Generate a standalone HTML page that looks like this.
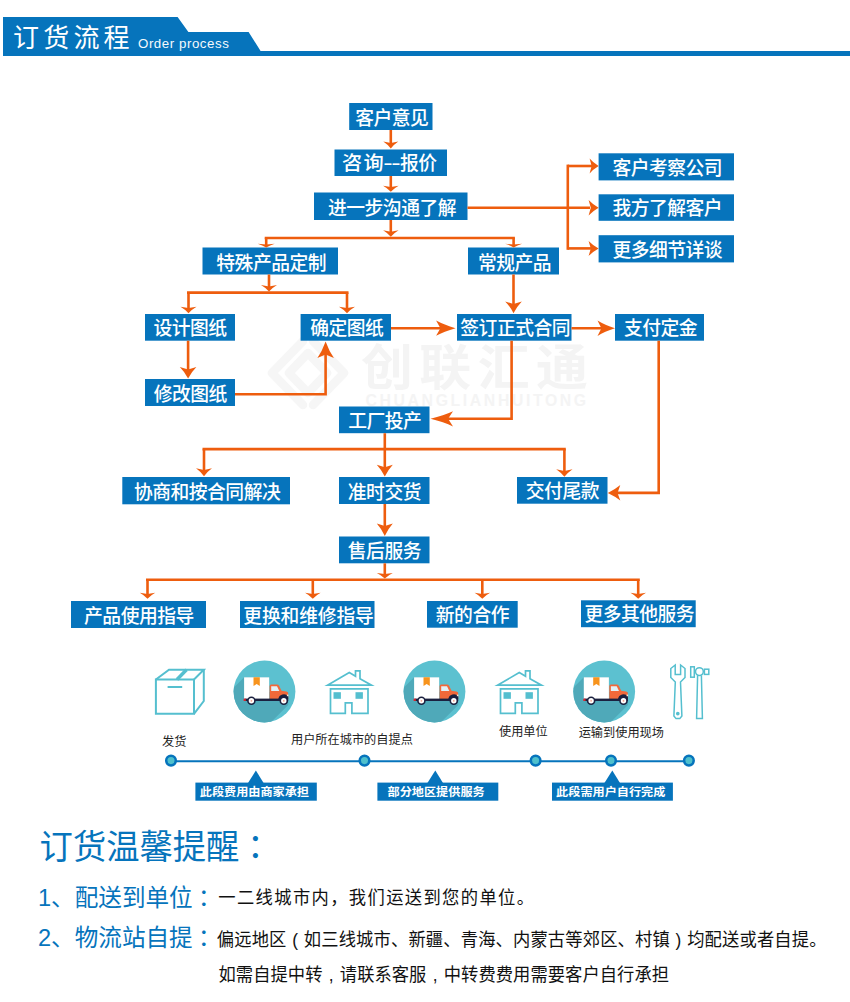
<!DOCTYPE html>
<html lang="zh-CN">
<head>
<meta charset="utf-8">
<title>订货流程 Order process</title>
<style>
html,body{margin:0;padding:0;background:#fff;}
body{width:850px;height:1002px;position:relative;overflow:hidden;font-family:"Liberation Sans","Noto Sans CJK SC",sans-serif;}
#page{position:absolute;left:0;top:0;width:850px;height:1002px;overflow:hidden;background:#fff;}
.abs{position:absolute;white-space:nowrap;}
svg{position:absolute;left:0;top:0;}
.b{position:absolute;color:#fff;font-size:18.8px;text-align:center;white-space:nowrap;letter-spacing:-0.5px;text-indent:0.5px;font-weight:500;transform:scaleY(1.04);transform-origin:50% 50%;}
.hd{position:absolute;left:13px;top:21.3px;color:#fff;font-size:26px;line-height:34px;letter-spacing:4.2px;white-space:nowrap;}
.hd2{position:absolute;left:138px;top:35.2px;color:#f4f9fc;font-size:13.3px;line-height:18px;letter-spacing:0.55px;white-space:nowrap;}
.cap{position:absolute;color:#222;font-size:12.2px;line-height:16px;white-space:nowrap;}
.tag{position:absolute;color:#fff;font-size:12.15px;line-height:18.6px;height:18.6px;text-align:center;white-space:nowrap;font-weight:700;transform:scaleY(0.95);transform-origin:50% 50%;}
.t1{position:absolute;color:#0674bc;white-space:nowrap;font-weight:400;transform-origin:0 50%;}
.t1 i,.t2 i{font-style:normal;font-family:"Liberation Sans","Noto Sans CJK JP",sans-serif;position:relative;top:1px;left:-0.6px;}
.t2 b{font-weight:inherit;display:inline-block;width:1em;text-align:center;}
.t2{position:absolute;color:#111;white-space:nowrap;transform:scaleY(1.07);transform-origin:0 50%;}
.wm{position:absolute;color:#f4f4f4;white-space:nowrap;}
</style>
</head>
<body>
<div id="page">

<div class="wm" style="left:360.6px;top:334.5px;font-size:48.5px;line-height:66px;letter-spacing:6px;font-weight:700;transform:scaleX(1.07);transform-origin:0 50%;">创联汇通</div>
<div class="wm" style="left:365.5px;top:391.3px;font-size:15.8px;line-height:20px;letter-spacing:2.62px;font-weight:700;">CHUANGLIANHUITONG</div>
<svg width="850" height="1002" viewBox="0 0 850 1002">
<g fill="none" stroke="#f6f6f6" stroke-width="8.5" stroke-linejoin="round" stroke-linecap="round"><path d="M303,341 L272,373 L303,405"/><path d="M313,341 L344,373 L313,405"/><path d="M308,353 L289,373 L308,393 L327,373 Z"/></g>
<path d="M3,17 L177.6,17 L188.4,32 L248.6,32 L260.6,51 L850,51 L850,56 L3,56 Z" fill="#0674bc"/>
<g fill="#0674bc">
<rect x="349.2" y="103.0" width="83.3" height="27.0"/>
<rect x="334.5" y="149.5" width="112.5" height="26.5"/>
<rect x="314.0" y="192.5" width="153.5" height="27.5"/>
<rect x="598.6" y="153.3" width="135.4" height="27.1"/>
<rect x="598.6" y="194.3" width="135.4" height="26.5"/>
<rect x="598.6" y="235.2" width="135.4" height="27.2"/>
<rect x="202.5" y="247.5" width="135.5" height="27.0"/>
<rect x="468.0" y="247.5" width="91.0" height="27.0"/>
<rect x="145.0" y="314.0" width="90.0" height="26.7"/>
<rect x="300.6" y="314.0" width="90.4" height="26.7"/>
<rect x="457.0" y="314.0" width="114.5" height="26.7"/>
<rect x="615.0" y="314.0" width="89.0" height="26.7"/>
<rect x="145.0" y="379.0" width="90.0" height="27.0"/>
<rect x="339.0" y="406.5" width="90.5" height="26.7"/>
<rect x="122.3" y="477.0" width="167.7" height="27.3"/>
<rect x="339.0" y="477.0" width="90.5" height="27.0"/>
<rect x="517.0" y="477.0" width="90.5" height="26.7"/>
<rect x="339.0" y="536.5" width="90.5" height="26.8"/>
<rect x="71.0" y="601.0" width="135.0" height="27.0"/>
<rect x="240.0" y="601.0" width="134.5" height="27.0"/>
<rect x="427.0" y="601.0" width="90.7" height="26.7"/>
<rect x="581.0" y="600.3" width="114.7" height="26.9"/>
</g>
<g fill="none" stroke="#ee5d0e" stroke-width="2.6" stroke-linejoin="miter" stroke-linecap="butt">
<path d="M390.8,130.0 L390.8,144.3"/>
<path d="M390.8,176.0 L390.8,188.2"/>
<path d="M390.8,220.0 L390.8,232.9"/>
<path d="M264.7,238.0 L514.9,238.0"/>
<path d="M266.2,238.0 L266.2,245.2"/>
<path d="M513.6,238.0 L513.6,245.2"/>
<path d="M467.5,207.8 L590.0,207.8"/>
<path d="M567.8,164.6 L567.8,249.8"/>
<path d="M567.8,166.0 L593.2,166.0"/>
<path d="M567.8,248.4 L592.6,248.4"/>
<path d="M269.0,274.5 L269.0,287.6"/>
<path d="M187.0,292.6 L348.5,292.6"/>
<path d="M188.5,292.6 L188.5,309.3"/>
<path d="M347.0,292.6 L347.0,309.3"/>
<path d="M188.1,340.7 L188.1,371.6"/>
<path d="M235.0,394.2 L325.6,394.2 L325.6,351.5"/>
<path d="M391.0,328.2 L443.9,328.2"/>
<path d="M571.5,328.2 L604.5,328.2"/>
<path d="M513.5,274.5 L513.5,306.1"/>
<path d="M511.6,340.7 L511.6,418.8 L444.0,418.8"/>
<path d="M658.7,340.7 L658.7,492.9 L615.3,492.9"/>
<path d="M384.8,433.2 L384.8,469.4"/>
<path d="M202.5,449.1 L565.8,449.1"/>
<path d="M204.0,449.1 L204.0,471.5"/>
<path d="M564.4,449.1 L564.4,472.2"/>
<path d="M384.8,504.0 L384.8,528.4"/>
<path d="M384.8,563.3 L384.8,575.1"/>
<path d="M146.0,579.8 L639.8,579.8"/>
<path d="M147.5,579.8 L147.5,595.2"/>
<path d="M312.8,579.8 L312.8,595.2"/>
<path d="M482.3,579.8 L482.3,595.2"/>
<path d="M638.2,579.8 L638.2,595.2"/>
</g>
<g fill="#ee5d0e" stroke="none">
<path d="M390.8,148.5 Q387.5,144.3 383.3,141.5 L390.8,143.0 L398.3,141.5 Q394.1,144.3 390.8,148.5 Z"/>
<path d="M390.8,191.8 Q387.4,188.2 383.1,185.8 L390.8,187.1 L398.6,185.8 Q394.2,188.2 390.8,191.8 Z"/>
<path d="M390.8,236.8 Q387.4,232.9 383.1,230.3 L390.8,231.7 L398.6,230.3 Q394.2,232.9 390.8,236.8 Z"/>
<path d="M266.2,247.4 Q262.5,245.3 257.7,243.8 L266.2,244.6 L274.7,243.8 Q269.9,245.3 266.2,247.4 Z"/>
<path d="M513.6,247.4 Q509.9,245.3 505.1,243.8 L513.6,244.6 L522.1,243.8 Q517.3,245.3 513.6,247.4 Z"/>
<path d="M598.6,207.8 Q592.6,204.4 588.6,200.1 L590.8,207.8 L588.6,215.6 Q592.6,211.2 598.6,207.8 Z"/>
<path d="M598.6,166.0 Q593.2,162.7 589.6,158.5 L591.6,166.0 L589.6,173.5 Q593.2,169.3 598.6,166.0 Z"/>
<path d="M598.6,248.4 Q592.6,245.1 588.6,240.9 L590.8,248.4 L588.6,255.9 Q592.6,251.7 598.6,248.4 Z"/>
<path d="M269.0,291.5 Q265.5,287.6 261.0,285.0 L269.0,286.4 L277.0,285.0 Q272.5,287.6 269.0,291.5 Z"/>
<path d="M188.5,313.2 Q185.0,309.3 180.5,306.7 L188.5,308.1 L196.5,306.7 Q192.0,309.3 188.5,313.2 Z"/>
<path d="M347.0,313.2 Q343.5,309.3 339.0,306.7 L347.0,308.1 L355.0,306.7 Q350.5,309.3 347.0,313.2 Z"/>
<path d="M188.1,378.5 Q184.4,371.6 179.8,367.0 L188.1,369.5 L196.4,367.0 Q191.8,371.6 188.1,378.5 Z"/>
<path d="M325.6,341.5 Q322.0,351.4 317.4,358.1 L325.6,354.4 L333.9,358.1 Q329.2,351.4 325.6,341.5 Z"/>
<path d="M455.6,328.2 Q444.0,324.9 436.1,320.6 L440.4,328.2 L436.1,335.8 Q444.0,331.5 455.6,328.2 Z"/>
<path d="M615.0,328.2 Q604.6,324.8 597.5,320.4 L601.4,328.2 L597.5,335.9 Q604.6,331.6 615.0,328.2 Z"/>
<path d="M513.5,313.2 Q509.9,306.2 505.2,301.4 L513.5,304.0 L521.8,301.4 Q517.1,306.2 513.5,313.2 Z"/>
<path d="M430.5,418.8 Q443.9,415.4 453.0,411.2 L448.1,418.8 L453.0,426.4 Q443.9,422.2 430.5,418.8 Z"/>
<path d="M607.8,492.9 Q615.2,489.5 620.3,485.1 L617.5,492.9 L620.3,500.6 Q615.2,496.3 607.8,492.9 Z"/>
<path d="M384.8,476.5 Q381.3,469.5 376.8,464.7 L384.8,467.3 L392.8,464.7 Q388.3,469.5 384.8,476.5 Z"/>
<path d="M204.0,476.3 Q200.5,471.5 196.0,468.3 L204.0,470.1 L212.0,468.3 Q207.5,471.5 204.0,476.3 Z"/>
<path d="M564.4,476.8 Q560.8,472.3 556.2,469.2 L564.4,470.9 L572.5,469.2 Q568.0,472.3 564.4,476.8 Z"/>
<path d="M384.8,535.9 Q381.3,528.4 376.8,523.4 L384.8,526.1 L392.8,523.4 Q388.3,528.4 384.8,535.9 Z"/>
<path d="M384.8,578.4 Q381.3,575.1 376.8,572.9 L384.8,574.1 L392.8,572.9 Q388.3,575.1 384.8,578.4 Z"/>
<path d="M147.5,598.8 Q144.1,595.2 139.8,592.8 L147.5,594.1 L155.2,592.8 Q150.9,595.2 147.5,598.8 Z"/>
<path d="M312.8,598.8 Q309.4,595.2 305.1,592.8 L312.8,594.1 L320.6,592.8 Q316.2,595.2 312.8,598.8 Z"/>
<path d="M482.3,598.8 Q478.9,595.2 474.6,592.8 L482.3,594.1 L490.1,592.8 Q485.7,595.2 482.3,598.8 Z"/>
<path d="M638.2,598.8 Q634.8,595.2 630.5,592.8 L638.2,594.1 L646.0,592.8 Q641.6,595.2 638.2,598.8 Z"/>
</g>
<path d="M171,761.2 L689,761.2" stroke="#0674bc" stroke-width="2.1" fill="none"/>
<circle cx="171.0" cy="760.6" r="4.8" fill="#4fc0cc" stroke="#0674bc" stroke-width="2.5"/>
<circle cx="364.5" cy="760.6" r="4.8" fill="#4fc0cc" stroke="#0674bc" stroke-width="2.5"/>
<circle cx="535.6" cy="760.6" r="4.8" fill="#4fc0cc" stroke="#0674bc" stroke-width="2.5"/>
<circle cx="611.0" cy="760.6" r="4.8" fill="#4fc0cc" stroke="#0674bc" stroke-width="2.5"/>
<circle cx="688.9" cy="760.6" r="4.8" fill="#4fc0cc" stroke="#0674bc" stroke-width="2.5"/>
<rect x="195.4" y="782.6" width="121.4" height="18.1" fill="#0674bc"/>
<rect x="377.4" y="782.6" width="120.9" height="18.1" fill="#0674bc"/>
<rect x="552.0" y="782.6" width="120.9" height="18.1" fill="#0674bc"/>
<path d="M255.9,770.6 L248.0,783 L263.6,783 Z" fill="#0674bc"/>
<path d="M435.3,770.6 L427.4,783 L443.0,783 Z" fill="#0674bc"/>
<path d="M612.3,770.6 L604.4,783 L620.0,783 Z" fill="#0674bc"/>
<g fill="none" stroke="#55bfcf" stroke-width="2" stroke-linejoin="miter">
<path d="M155.9,679.5 H194 V713.8 H155.9 Z"/>
<path d="M155.9,679.5 L169,669.7 H203.8 L194,679.5"/>
<path d="M203.8,669.7 V701 L194,713.8"/>
<path d="M167.6,687 H182.2"/>
<path d="M177,679.5 L186.5,669.7" stroke-width="3.4"/>
</g>
<g fill="none" stroke="#55bfcf" stroke-width="1.7" stroke-linejoin="miter" transform="translate(0.0,0)"><path d="M327.5,685.2 L349.3,672.6 L355.5,676.2 V670.8 H360 V678.8 L371.5,685.2 Z"/><path d="M330.5,688.9 H368 V713.4 H351.9 V702.9 H345.3 V713.4 H330.5 Z"/><rect x="333.5" y="692.2" width="7.4" height="6.6" fill="#55bfcf" stroke="none"/><rect x="355.5" y="692.2" width="7.4" height="6.6" fill="#55bfcf" stroke="none"/></g>
<g fill="none" stroke="#55bfcf" stroke-width="1.7" stroke-linejoin="miter" transform="translate(170.0,0)"><path d="M327.5,685.2 L349.3,672.6 L355.5,676.2 V670.8 H360 V678.8 L371.5,685.2 Z"/><path d="M330.5,688.9 H368 V713.4 H351.9 V702.9 H345.3 V713.4 H330.5 Z"/><rect x="333.5" y="692.2" width="7.4" height="6.6" fill="#55bfcf" stroke="none"/><rect x="355.5" y="692.2" width="7.4" height="6.6" fill="#55bfcf" stroke="none"/></g>
<g transform="translate(0.0,0)"><clipPath id="c264"><circle cx="264.5" cy="691.5" r="30.9"/></clipPath><circle cx="264.5" cy="691.5" r="30.9" fill="#5cc1d0"/><g clip-path="url(#c264)"><path d="M244.1,677.3 L184.1,737.3 L228.2,765 L288.2,705 L288.2,692 L269.2,692 L269.2,677.3 Z" fill="#4fa9b9"/></g><rect x="244.1" y="677.3" width="25.1" height="22" fill="#fff"/><path d="M253.5,677.3 H259.8 V686 L256.65,684 L253.5,686 Z" fill="#f7941e"/><path d="M269.6,699.5 V686.2 Q269.6,684.6 271.2,684.6 H277 Q278.5,684.6 279.2,686 L281.5,690.8 L286.5,691.6 Q288.2,692 288.2,694 V699.5 Z" fill="#f2693a"/><path d="M271.2,686.3 H277 L279.3,691 H271.2 Z" fill="#e3f1f6"/><rect x="244.5" y="698.6" width="43.7" height="2.4" fill="#1b2140"/><rect x="243.6" y="698.6" width="2.2" height="2.4" fill="#d8262c"/><path d="M278.3,699 A5.5,5.5 0 0 1 288.2,696.5 V699 Z" fill="#1b2140"/><rect x="286.9" y="694.6" width="1.5" height="1.6" fill="#fde9d8"/><circle cx="251.4" cy="700.8" r="4.3" fill="#1b2140"/><circle cx="251.4" cy="700.8" r="2.7" fill="#fff"/><circle cx="251.4" cy="700.8" r="0.9" fill="#f2a08a"/><circle cx="283.8" cy="700.8" r="4.3" fill="#1b2140"/><circle cx="283.8" cy="700.8" r="2.7" fill="#fff"/><circle cx="283.8" cy="700.8" r="0.9" fill="#f2a08a"/></g>
<g transform="translate(170.0,0)"><clipPath id="c434"><circle cx="264.5" cy="691.5" r="30.9"/></clipPath><circle cx="264.5" cy="691.5" r="30.9" fill="#5cc1d0"/><g clip-path="url(#c434)"><path d="M244.1,677.3 L184.1,737.3 L228.2,765 L288.2,705 L288.2,692 L269.2,692 L269.2,677.3 Z" fill="#4fa9b9"/></g><rect x="244.1" y="677.3" width="25.1" height="22" fill="#fff"/><path d="M253.5,677.3 H259.8 V686 L256.65,684 L253.5,686 Z" fill="#f7941e"/><path d="M269.6,699.5 V686.2 Q269.6,684.6 271.2,684.6 H277 Q278.5,684.6 279.2,686 L281.5,690.8 L286.5,691.6 Q288.2,692 288.2,694 V699.5 Z" fill="#f2693a"/><path d="M271.2,686.3 H277 L279.3,691 H271.2 Z" fill="#e3f1f6"/><rect x="244.5" y="698.6" width="43.7" height="2.4" fill="#1b2140"/><rect x="243.6" y="698.6" width="2.2" height="2.4" fill="#d8262c"/><path d="M278.3,699 A5.5,5.5 0 0 1 288.2,696.5 V699 Z" fill="#1b2140"/><rect x="286.9" y="694.6" width="1.5" height="1.6" fill="#fde9d8"/><circle cx="251.4" cy="700.8" r="4.3" fill="#1b2140"/><circle cx="251.4" cy="700.8" r="2.7" fill="#fff"/><circle cx="251.4" cy="700.8" r="0.9" fill="#f2a08a"/><circle cx="283.8" cy="700.8" r="4.3" fill="#1b2140"/><circle cx="283.8" cy="700.8" r="2.7" fill="#fff"/><circle cx="283.8" cy="700.8" r="0.9" fill="#f2a08a"/></g>
<g transform="translate(339.7,0)"><clipPath id="c604"><circle cx="264.5" cy="691.5" r="30.9"/></clipPath><circle cx="264.5" cy="691.5" r="30.9" fill="#5cc1d0"/><g clip-path="url(#c604)"><path d="M244.1,677.3 L184.1,737.3 L228.2,765 L288.2,705 L288.2,692 L269.2,692 L269.2,677.3 Z" fill="#4fa9b9"/></g><rect x="244.1" y="677.3" width="25.1" height="22" fill="#fff"/><path d="M253.5,677.3 H259.8 V686 L256.65,684 L253.5,686 Z" fill="#f7941e"/><path d="M269.6,699.5 V686.2 Q269.6,684.6 271.2,684.6 H277 Q278.5,684.6 279.2,686 L281.5,690.8 L286.5,691.6 Q288.2,692 288.2,694 V699.5 Z" fill="#f2693a"/><path d="M271.2,686.3 H277 L279.3,691 H271.2 Z" fill="#e3f1f6"/><rect x="244.5" y="698.6" width="43.7" height="2.4" fill="#1b2140"/><rect x="243.6" y="698.6" width="2.2" height="2.4" fill="#d8262c"/><path d="M278.3,699 A5.5,5.5 0 0 1 288.2,696.5 V699 Z" fill="#1b2140"/><rect x="286.9" y="694.6" width="1.5" height="1.6" fill="#fde9d8"/><circle cx="251.4" cy="700.8" r="4.3" fill="#1b2140"/><circle cx="251.4" cy="700.8" r="2.7" fill="#fff"/><circle cx="251.4" cy="700.8" r="0.9" fill="#f2a08a"/><circle cx="283.8" cy="700.8" r="4.3" fill="#1b2140"/><circle cx="283.8" cy="700.8" r="2.7" fill="#fff"/><circle cx="283.8" cy="700.8" r="0.9" fill="#f2a08a"/></g>
<g fill="none" stroke="#55bfcf" stroke-width="1.5" stroke-linejoin="miter">
<path d="M675.2,665 L670.8,668.5 V677.5 L675.3,682 L673.9,716 L676,718.6 H679.8 L681.9,716 L680.5,682 L685,677.5 V668.5 L680.6,665 V674.5 H675.2 Z"/>
<circle cx="677.8" cy="713.6" r="1.1" fill="#55bfcf"/>
<rect x="690.7" y="666.8" width="3.6" height="10.4"/>
<circle cx="699.4" cy="671.6" r="3.9"/>
<rect x="704.4" y="669.2" width="4.4" height="5.2"/>
<path d="M697.6,675.5 L696.6,718.4 H702.4 L701.4,675.5"/>
</g>
</svg>
<div class="hd">订货流程</div>
<div class="hd2">Order process</div>
<div class="b" style="left:349.9px;top:105.0px;width:83.3px;height:27.0px;line-height:27.0px;">客户意见</div>
<div class="b" style="left:334.5px;top:149.9px;width:112.5px;height:26.5px;line-height:26.5px;text-align:left;text-indent:0;letter-spacing:0;transform:none;"><span style="display:inline-block;margin-left:7.4px;font-size:20.2px;letter-spacing:1.5px;transform:scaleY(0.97);">咨询</span><span style="display:inline-block;transform:scale(1.5,1.06);margin-left:0.7px;margin-right:3.3px;letter-spacing:-0.9px;">--</span><span style="display:inline-block;letter-spacing:-0.5px;transform:scaleY(1.05);">报价</span></div>
<div class="b" style="left:315.0px;top:194.5px;width:153.5px;height:27.5px;line-height:27.5px;">进一步沟通了解</div>
<div class="b" style="left:599.3px;top:155.3px;width:135.4px;height:27.1px;line-height:27.1px;">客户考察公司</div>
<div class="b" style="left:599.3px;top:196.3px;width:135.4px;height:26.5px;line-height:26.5px;">我方了解客户</div>
<div class="b" style="left:599.3px;top:237.2px;width:135.4px;height:27.2px;line-height:27.2px;">更多细节详谈</div>
<div class="b" style="left:203.2px;top:249.5px;width:135.5px;height:27.0px;line-height:27.0px;">特殊产品定制</div>
<div class="b" style="left:468.7px;top:249.5px;width:91.0px;height:27.0px;line-height:27.0px;">常规产品</div>
<div class="b" style="left:144.8px;top:316.0px;width:90.0px;height:26.7px;line-height:26.7px;">设计图纸</div>
<div class="b" style="left:301.3px;top:316.0px;width:90.4px;height:26.7px;line-height:26.7px;">确定图纸</div>
<div class="b" style="left:457.7px;top:316.0px;width:114.5px;height:26.7px;line-height:26.7px;">签订正式合同</div>
<div class="b" style="left:615.7px;top:316.0px;width:89.0px;height:26.7px;line-height:26.7px;">支付定金</div>
<div class="b" style="left:145.0px;top:381.0px;width:90.0px;height:27.0px;line-height:27.0px;">修改图纸</div>
<div class="b" style="left:339.3px;top:408.5px;width:90.5px;height:26.7px;line-height:26.7px;">工厂投产</div>
<div class="b" style="left:123.0px;top:479.0px;width:167.7px;height:27.3px;line-height:27.3px;">协商和按合同解决</div>
<div class="b" style="left:338.9px;top:479.0px;width:90.5px;height:27.0px;line-height:27.0px;">准时交货</div>
<div class="b" style="left:516.9px;top:479.0px;width:90.5px;height:26.7px;line-height:26.7px;">交付尾款</div>
<div class="b" style="left:338.9px;top:538.5px;width:90.5px;height:26.8px;line-height:26.8px;">售后服务</div>
<div class="b" style="left:71.2px;top:603.0px;width:135.0px;height:27.0px;line-height:27.0px;">产品使用指导</div>
<div class="b" style="left:241.2px;top:603.0px;width:134.5px;height:27.0px;line-height:27.0px;letter-spacing:-0.15px;text-indent:0.15px;">更换和维修指导</div>
<div class="b" style="left:426.8px;top:603.0px;width:90.7px;height:26.7px;line-height:26.7px;">新的合作</div>
<div class="b" style="left:581.7px;top:602.3px;width:114.7px;height:26.9px;line-height:26.9px;">更多其他服务</div>
<div class="cap" style="left:162px;top:733.8px;">发货</div>
<div class="cap" style="left:291px;top:731.5px;">用户所在城市的自提点</div>
<div class="cap" style="left:499px;top:723.8px;">使用单位</div>
<div class="cap" style="left:578.7px;top:725.4px;">运输到使用现场</div>
<div class="tag" style="left:193.7px;top:783.4px;width:121.4px;">此段费用由商家承担</div>
<div class="tag" style="left:375.7px;top:783.4px;width:120.9px;">部分地区提供服务</div>
<div class="tag" style="left:550.3px;top:783.4px;width:120.9px;">此段需用户自行完成</div>
<div class="t1" style="left:39.6px;top:824px;font-size:33.3px;line-height:48px;letter-spacing:0px;transform:scaleY(1.03);">订货温馨提醒<i lang="ja">：</i></div>
<div class="t1" style="left:38px;top:880.5px;font-size:23.6px;line-height:34px;">1、配送到单位<i lang="ja">：</i></div>
<div class="t1" style="left:38px;top:921px;font-size:23.6px;line-height:34px;">2、物流站自提<i lang="ja">：</i></div>
<div class="t2" style="left:218.3px;top:885.5px;font-size:17.3px;line-height:24px;letter-spacing:1.37px;">一二线城市内，我们运送到您的单位。</div>
<div class="t2" style="left:216.8px;top:927.5px;font-size:17.3px;line-height:24px;letter-spacing:0.15px;">偏远地区<b>(</b>如三线城市、新疆、青海、内蒙古等郊区、村镇<b>)</b>均配送或者自提。</div>
<div class="t2" style="left:218.5px;top:963.2px;font-size:17.3px;line-height:24px;letter-spacing:0.05px;">如需自提中转<b>,</b>请联系客服<b>,</b>中转费费用需要客户自行承担</div>
</div>
</body>
</html>
